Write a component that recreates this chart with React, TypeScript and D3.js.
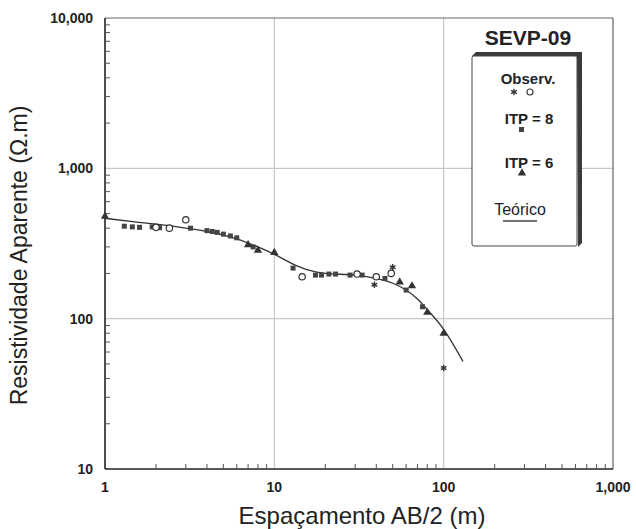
import React from 'react'
import * as d3 from 'd3'

// curva teórica (AB/2, rho)
const curveX = [1, 1.5, 2, 3, 4, 5, 6, 8, 10, 13, 16, 20, 30, 40, 50, 60, 70, 80, 100, 130]
const curveY = [465, 440, 425, 400, 380, 360, 340, 300, 268, 230, 210, 200, 195, 185, 172, 155, 135, 115, 85, 52]

// ITP = 8 (quadrados)
const itp8X = [1.3, 1.45, 1.6, 1.9, 2.1, 3.2, 4.0, 4.3, 4.6, 5.0, 5.5, 6.0, 7.5, 12.9, 17.5, 19, 21, 23, 28, 33, 45, 60, 75]
const itp8Y = [412, 408, 405, 408, 403, 400, 385, 380, 375, 365, 355, 345, 300, 217, 195, 195, 198, 198, 195, 195, 185, 155, 120]

// ITP = 6 (triângulos)
const itp6X = [1, 7, 8, 10, 55, 65, 80, 100]
const itp6Y = [480, 310, 285, 275, 175, 165, 110, 80]

// Observados
const circX = [2.0, 2.4, 3.0, 14.6, 30.8, 40, 49]
const circY = [405, 400, 455, 190, 198, 190, 200]
const starX = [39, 50, 100]
const starY = [168, 220, 47]

const xTicks = [1, 10, 100, 1000]
const yTicks = [10, 100, 1000, 10000]

const font = '"Liberation Sans", Arial, sans-serif'

export default function App() {
  const left = 105, right = 613, top = 18, bottom = 469
  const x = d3.scaleLog().domain([1, 1000]).range([left, right])
  const y = d3.scaleLog().domain([10, 10000]).range([bottom, top])
  const fmt = d3.format(',')

  const minors: number[] = []
  for (let d = 1; d < 1000; d *= 10) for (let k = 2; k <= 9; k++) minors.push(d * k)
  const yMinors = minors.map(v => v * 10)

  const line = d3.line<number>()
    .x((_, i) => x(curveX[i]))
    .y(v => y(v))
    .curve(d3.curveMonotoneX)

  const tri = d3.symbol(d3.symbolTriangle, 30)()
  const star = d3.symbol(d3.symbolAsterisk, 30)()

  return (
    <svg width={636} height={529} style={{ position: 'absolute', left: 0, top: 0, background: '#fff' }}>
      {/* grade */}
      {[10, 100].map(v => (
        <line key={'gx' + v} x1={x(v)} x2={x(v)} y1={top} y2={bottom} stroke="#c8c8c8" strokeWidth={1.2} />
      ))}
      {[100, 1000].map(v => (
        <line key={'gy' + v} x1={left} x2={right} y1={y(v)} y2={y(v)} stroke="#c8c8c8" strokeWidth={1.2} />
      ))}
      {/* moldura */}
      <line x1={left} x2={right} y1={top} y2={top} stroke="#666" strokeWidth={1} />
      <line x1={right} x2={right} y1={top} y2={bottom} stroke="#444" strokeWidth={1} />
      <line x1={left} x2={left} y1={top} y2={bottom} stroke="#222" strokeWidth={1.6} />
      <line x1={left} x2={right} y1={bottom} y2={bottom} stroke="#222" strokeWidth={1.6} />
      {/* ticks menores */}
      {minors.map(v => (
        <line key={'mx' + v} x1={x(v)} x2={x(v)} y1={bottom} y2={bottom - 5} stroke="#555" strokeWidth={1} />
      ))}
      {yMinors.map(v => (
        <line key={'my' + v} x1={left} x2={left + 5} y1={y(v)} y2={y(v)} stroke="#555" strokeWidth={1} />
      ))}
      {/* rótulos */}
      {xTicks.map(v => (
        <text key={'tx' + v} x={x(v)} y={bottom + 23} textAnchor="middle" fontFamily={font} fontWeight="bold" fontSize={14} fill="#222">{fmt(v)}</text>
      ))}
      {yTicks.map(v => (
        <text key={'ty' + v} x={left - 12} y={y(v) + 5} textAnchor="end" fontFamily={font} fontWeight="bold" fontSize={14} fill="#222">{fmt(v)}</text>
      ))}
      <text x={362} y={524} textAnchor="middle" fontFamily={font} fontSize={24} fill="#222">Espaçamento AB/2 (m)</text>
      <text transform={`translate(27,${(top + bottom) / 2 + 12}) rotate(-90)`} textAnchor="middle" fontFamily={font} fontSize={23} fill="#222">Resistividade Aparente (Ω.m)</text>

      {/* curva teórica */}
      <path d={line(curveY) || ''} fill="none" stroke="#333" strokeWidth={1.3} />

      {/* dados */}
      {itp8X.map((v, i) => (
        <rect key={'s' + i} x={x(v) - 2.5} y={y(itp8Y[i]) - 2.5} width={5} height={5} fill="#444" />
      ))}
      {itp6X.map((v, i) => (
        <path key={'t' + i} d={tri || ''} transform={`translate(${x(v)},${y(itp6Y[i])})`} fill="#333" />
      ))}
      {circX.map((v, i) => (
        <circle key={'c' + i} cx={x(v)} cy={y(circY[i])} r={3.2} fill="#fff" stroke="#333" strokeWidth={1.2} />
      ))}
      {starX.map((v, i) => (
        <path key={'a' + i} d={star || ''} transform={`translate(${x(v)},${y(starY[i])})`} fill="none" stroke="#333" strokeWidth={1.4} />
      ))}

      {/* título e legenda */}
      <text x={528} y={45} textAnchor="middle" fontFamily={font} fontSize={21} fontWeight="bold" fill="#222">SEVP-09</text>
      <path d="M472,56 L476,52 L582,52 L582,243 L578,247 L577,56 Z" fill="#3a3a3a" />
      <rect x={472} y={56} width={105} height={190} rx={2} fill="#fff" stroke="#444" strokeWidth={1} />
      <text x={528} y={84} textAnchor="middle" fontFamily={font} fontSize={15} fontWeight="bold" fill="#222">Observ.</text>
      <path d={star || ''} transform="translate(514,92)" fill="none" stroke="#333" strokeWidth={1.3} />
      <circle cx={530} cy={92} r={3} fill="#fff" stroke="#333" strokeWidth={1.1} />
      <text x={529} y={124} textAnchor="middle" fontFamily={font} fontSize={15} fontWeight="bold" fill="#222">ITP = 8</text>
      <rect x={519} y={127} width={5} height={5} fill="#444" />
      <text x={529} y={168} textAnchor="middle" fontFamily={font} fontSize={15} fontWeight="bold" fill="#222">ITP = 6</text>
      <path d={tri || ''} transform="translate(522,173)" fill="#333" />
      <text x={520} y={215} textAnchor="middle" fontFamily={font} fontSize={16} fill="#222">Teórico</text>
      <line x1={503} x2={537} y1={221} y2={221} stroke="#444" strokeWidth={1.5} />
    </svg>
  )
}
